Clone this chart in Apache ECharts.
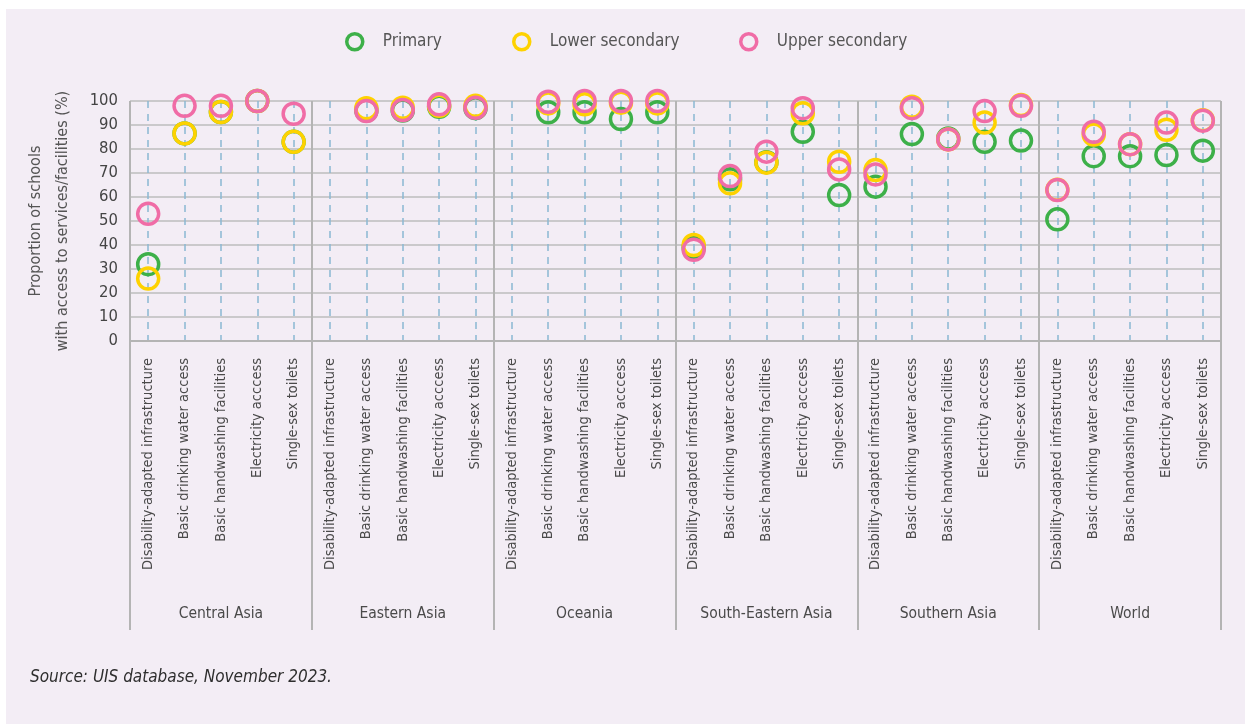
<!DOCTYPE html>
<html>
<head>
<meta charset="utf-8">
<script src="https://cdn.jsdelivr.net/npm/echarts@6/dist/echarts.min.js"></script>
<style>
  html, body { margin: 0; padding: 0; background: #ffffff; }
  #panel { position: absolute; left: 6px; top: 9px; width: 1239px; height: 715px; background: #f3edf5; }
  #chart { position: absolute; left: 0; top: 0; width: 1245px; height: 724px; }
  #source { position: absolute; left: 30px; top: 666px; font-family: 'DejaVu Sans Condensed', sans-serif;
    font-style: italic; font-size: 17px; color: #2e2e2e; }
</style>
</head>
<body>
<div id="panel"></div>
<div id="chart"></div>
<div id="source">Source: UIS database, November 2023.</div>
<script>
const regions = ['Central Asia', 'Eastern Asia', 'Oceania', 'South-Eastern Asia', 'Southern Asia', 'World'];
const indicators = ['Disability-adapted infrastructure', 'Basic drinking water access', 'Basic handwashing facilities', 'Electricity acccess', 'Single-sex toilets'];
const yTicks = [0, 10, 20, 30, 40, 50, 60, 70, 80, 90, 100];

// one row per region, one value per indicator ('-' = no data)
const primary = [
  [32, 86.5, 95.4, 100, 83],
  ['-', 96, 96, 97.6, 97],
  ['-', 95.3, 95.3, 92.5, 95.3],
  [39, 67.4, 74.5, 87.2, 60.8],
  [64.3, 86.2, 84.4, 83, 83.5],
  [50.7, 77, 77, 77.5, 79.3]
];
const lowerSecondary = [
  [26, 86.5, 95.4, 100, 83],
  ['-', 97, 97.2, 98, 98],
  ['-', 99, 98.6, 99.3, 99],
  [40, 65.7, 74.3, 94.9, 74.7],
  [71.2, 97.6, 84, 91, 98.3],
  [63, 86, 82, 88, 92]
];
const upperSecondary = [
  [53, 98, 98, 100, 94.7],
  ['-', 95.8, 96.2, 98.6, 97.2],
  ['-', 99.7, 100, 100, 100],
  [38, 68.7, 78.9, 97, 71.5],
  [69.4, 97, 84, 95.8, 98],
  [62.9, 87.2, 82, 91, 91.8]
];

const FONT = "'DejaVu Sans Condensed', sans-serif";
const colors = { Primary: '#3db049', 'Lower secondary': '#fed200', 'Upper secondary': '#f06ca6' };

const categories = [];
regions.forEach(() => indicators.forEach(ind => categories.push(ind)));
const flat = rows => [].concat(...rows);

const makeSeries = (name, rows, z) => ({
  name,
  type: 'scatter',
  symbol: 'circle',
  symbolSize: 21,
  z,
  itemStyle: { color: 'rgba(0,0,0,0)', borderColor: colors[name], borderWidth: 3.5, opacity: 1 },
  emphasis: { disabled: true },
  data: flat(rows)
});

const makeLegend = (name, left) => ({
  left,
  top: 32,
  padding: 0,
  itemWidth: 16,
  itemHeight: 16,
  data: [{ name, icon: 'circle', itemStyle: { color: 'rgba(0,0,0,0)', borderColor: colors[name], borderWidth: 3.5 } }],
  selectedMode: false,
  textStyle: { fontFamily: FONT, fontSize: 17, color: '#555', padding: [0, 0, 0, 15] }
});

const chart = echarts.init(document.getElementById('chart'));
chart.setOption({
  backgroundColor: 'transparent',
  animation: false,
  legend: [
    makeLegend('Primary', 345),
    makeLegend('Lower secondary', 512),
    makeLegend('Upper secondary', 739)
  ],
  grid: { left: 130, right: 24, top: 101, bottom: 383, containLabel: false },
  xAxis: [
    {
      type: 'category',
      data: categories,
      position: 'bottom',
      axisLine: { show: true, lineStyle: { color: '#b4b4b4', width: 2 } },
      axisTick: { show: false },
      splitLine: { show: true, alignWithLabel: true, interval: 0, lineStyle: { color: '#8bb8d2', width: 1.5, type: [7, 6] } },
      axisLabel: { interval: 0, rotate: 90, margin: 17, fontFamily: FONT, fontSize: 14.5, color: '#4a4a4a' }
    },
    {
      type: 'category',
      data: regions,
      position: 'bottom',
      axisLine: { show: false },
      axisTick: { show: true, interval: 0, length: 289, lineStyle: { color: '#b4b4b4', width: 2 } },
      axisLabel: { interval: 0, margin: 265, fontFamily: FONT, fontSize: 15.5, color: '#4a4a4a' },
      splitLine: { show: true, interval: 0, lineStyle: { color: '#b4b4b4', width: 2 } }
    }
  ],
  yAxis: {
    type: 'value',
    min: yTicks[0],
    max: yTicks[yTicks.length - 1],
    interval: 10,
    name: 'Proportion of schools\nwith access to services/facilities (%)',
    nameLocation: 'middle',
    nameGap: 54,
    nameTextStyle: { fontFamily: FONT, fontSize: 16, color: '#555', lineHeight: 27 },
    axisLine: { show: false },
    axisTick: { show: false },
    axisLabel: { fontFamily: FONT, fontSize: 16.5, color: '#444', margin: 12 },
    splitLine: { show: true, lineStyle: { color: '#bdbdbd', width: 1.5 } }
  },
  series: [
    makeSeries('Primary', primary, 3),
    makeSeries('Lower secondary', lowerSecondary, 4),
    makeSeries('Upper secondary', upperSecondary, 5)
  ]
});
</script>
</body>
</html>
